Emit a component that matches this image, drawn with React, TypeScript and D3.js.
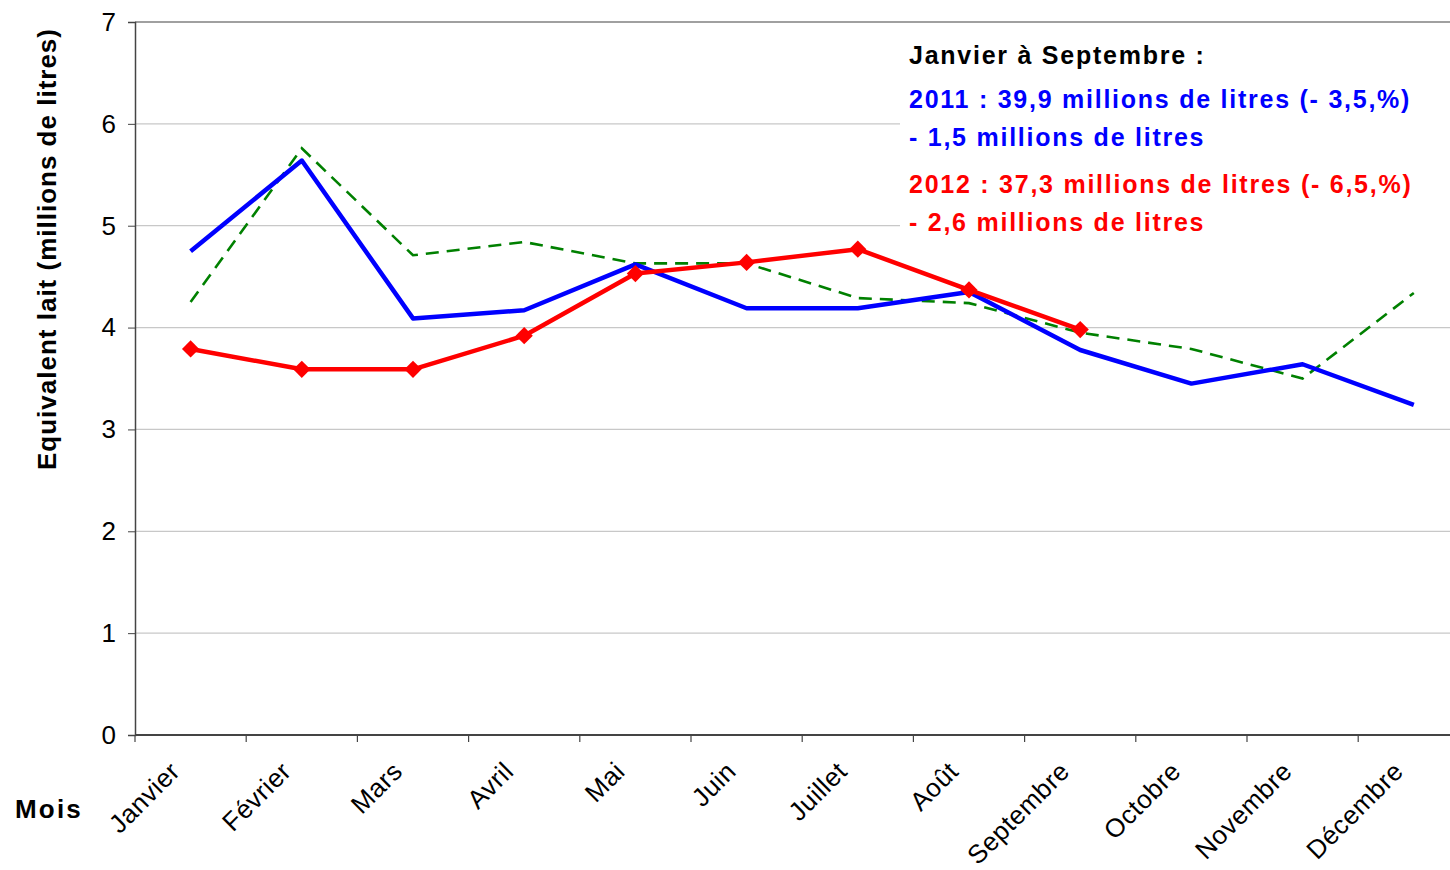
import React, { useEffect, useRef } from 'react'
import * as d3 from 'd3'

const months = ['Janvier', 'Février', 'Mars', 'Avril', 'Mai', 'Juin', 'Juillet', 'Août', 'Septembre', 'Octobre', 'Novembre', 'Décembre']
const serie2010 = [4.25, 5.76, 4.71, 4.84, 4.63, 4.63, 4.29, 4.24, 3.95, 3.79, 3.5, 4.34]
const serie2011 = [4.75, 5.64, 4.09, 4.17, 4.62, 4.19, 4.19, 4.35, 3.78, 3.45, 3.64, 3.24]
const serie2012 = [3.79, 3.59, 3.59, 3.92, 4.53, 4.64, 4.77, 4.37, 3.98]
const yTicks = [0, 1, 2, 3, 4, 5, 6, 7]
const noteLines = [
  { text: 'Janvier à Septembre :', color: '#000000' },
  { text: '2011 : 39,9 millions de litres (- 3,5,%)', color: '#0000FF' },
  { text: '- 1,5 millions de litres', color: '#0000FF' },
  { text: '2012 : 37,3 millions de litres (- 6,5,%)', color: '#FF0000' },
  { text: '- 2,6 millions de litres', color: '#FF0000' },
]

export default function App() {
  const ref = useRef<SVGSVGElement>(null)

  useEffect(() => {
    const width = 1450, height = 870
    const left = 135, top = 22, bottom = 735
    const font = '"Liberation Sans", Arial, sans-serif'
    const svg = d3.select(ref.current)
    svg.selectAll('*').remove()
    svg.attr('width', width).attr('height', height)
      .style('font-family', font)

    const x = d3.scaleBand().domain(months).range([left, left + 12 * 111.2])
    const y = d3.scaleLinear().domain([0, 7]).range([bottom, top])
    const cx = (i: number) => (x(months[i]) as number) + x.bandwidth() / 2

    // grille
    svg.append('g').selectAll('line')
      .data(yTicks.filter(t => t > 0 && t < 7))
      .enter().append('line')
      .attr('x1', left).attr('x2', width)
      .attr('y1', d => y(d)).attr('y2', d => y(d))
      .attr('stroke', '#c8c8c8').attr('stroke-width', 1.2)

    // cadre haut
    svg.append('line').attr('x1', left).attr('x2', width)
      .attr('y1', y(7)).attr('y2', y(7)).attr('stroke', '#808080').attr('stroke-width', 1.5)

    // axe y
    const yAxis = d3.axisLeft(y).tickValues(yTicks).tickFormat(d3.format('d')).tickSize(7).tickPadding(12)
    const gy = svg.append('g').attr('transform', `translate(${left},0)`).call(yAxis)
      .attr('font-family', font)
    gy.select('.domain').attr('stroke', '#444').attr('stroke-width', 1.5)
    gy.selectAll('.tick line').attr('stroke', '#444')
    gy.selectAll('.tick text').attr('font-size', 26).attr('fill', '#000')

    // axe x
    svg.append('line').attr('x1', left).attr('x2', width).attr('y1', bottom).attr('y2', bottom)
      .attr('stroke', '#444').attr('stroke-width', 2)
    svg.append('g').selectAll('line')
      .data(months)
      .enter().append('line')
      .attr('x1', d => x(d) as number).attr('x2', d => x(d) as number)
      .attr('y1', bottom).attr('y2', bottom + 7)
      .attr('stroke', '#444').attr('stroke-width', 1.2)

    svg.append('g').selectAll('text')
      .data(months)
      .enter().append('text')
      .attr('transform', (d, i) => `translate(${cx(i) - 9},${bottom + 38}) rotate(-45)`)
      .attr('text-anchor', 'end')
      .attr('font-size', 26)
      .attr('letter-spacing', 0.5)
      .attr('fill', '#000')
      .text(d => d)

    // titres
    svg.append('text')
      .attr('transform', `translate(56,249) rotate(-90)`)
      .attr('text-anchor', 'middle')
      .attr('font-size', 26).attr('font-weight', 'bold')
      .attr('letter-spacing', 1)
      .text('Equivalent lait (millions de litres)')
    svg.append('text')
      .attr('x', 15).attr('y', 818)
      .attr('font-size', 26).attr('font-weight', 'bold')
      .attr('letter-spacing', 2.2)
      .text('Mois')

    // courbes
    const line = d3.line<number>().x((d, i) => cx(i)).y(d => y(d))

    svg.append('path').datum(serie2010)
      .attr('d', line).attr('fill', 'none')
      .attr('stroke', '#008000').attr('stroke-width', 2.6)
      .attr('stroke-dasharray', '13,8')

    svg.append('path').datum(serie2011)
      .attr('d', line).attr('fill', 'none')
      .attr('stroke', '#0000FF').attr('stroke-width', 4.5)
      .attr('stroke-linejoin', 'round')

    svg.append('path').datum(serie2012)
      .attr('d', line).attr('fill', 'none')
      .attr('stroke', '#FF0000').attr('stroke-width', 4.5)
      .attr('stroke-linejoin', 'round')

    svg.append('g').selectAll('path')
      .data(serie2012)
      .enter().append('path')
      .attr('d', d3.symbol().type(d3.symbolDiamond2).size(190))
      .attr('transform', (d, i) => `translate(${cx(i)},${y(d)})`)
      .attr('fill', '#FF0000')

    // encadré
    svg.append('rect').attr('x', 900).attr('y', 38).attr('width', 550).attr('height', 202)
      .attr('fill', '#fff')
    const baselines = [64, 108, 146, 193, 231]
    svg.append('g').selectAll('text')
      .data(noteLines)
      .enter().append('text')
      .attr('x', 909).attr('y', (d, i) => baselines[i])
      .attr('font-size', 25).attr('font-weight', 'bold')
      .attr('letter-spacing', 1.75)
      .attr('fill', d => d.color)
      .text(d => d.text)
  }, [])

  return <svg ref={ref} style={{ position: 'absolute', left: 0, top: 0 }} />
}
